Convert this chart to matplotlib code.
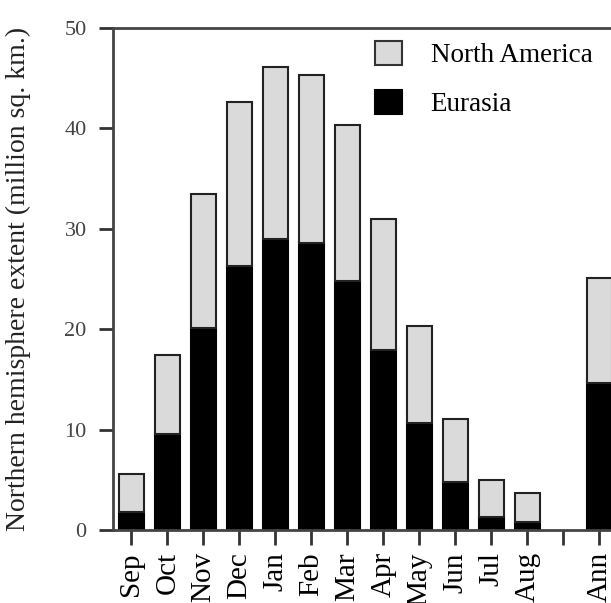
import numpy as np
import matplotlib
matplotlib.use('Agg')
import matplotlib.pyplot as plt
from matplotlib.patches import Patch

plt.rcParams['font.family'] = ['Liberation Serif', 'DejaVu Serif']

# values (million sq. km.)
months = ['Sep', 'Oct', 'Nov', 'Dec', 'Jan', 'Feb', 'Mar', 'Apr', 'May', 'Jun', 'Jul', 'Aug', '', 'Ann']
total = [5.6, 17.4, 33.5, 42.6, 46.1, 45.3, 40.3, 31.0, 20.3, 11.1, 5.0, 3.7, 0.0, 25.1]
eurasia = [1.8, 9.6, 20.1, 26.3, 29.0, 28.6, 24.8, 17.9, 10.7, 4.8, 1.3, 0.8, 0.0, 14.6]
north_america = [t - e for t, e in zip(total, eurasia)]

x = np.arange(len(months))
fig = plt.figure(figsize=(6.11, 6.03), dpi=100)
ax = fig.add_axes([113/611, 73/603, 510/611, 502/603])

show = [m != '' for m in months]
xs = x[show]
eu = np.array(eurasia)[show]
na = np.array(north_america)[show]

ax.bar(xs, eu, width=0.7, color='black', edgecolor='black', linewidth=1.5)
ax.bar(xs, na, width=0.7, bottom=eu, color='#dadada', edgecolor='#222222', linewidth=1.5)

ax.set_xlim(-0.51, 13.66)
ax.set_ylim(0, 50)
ax.set_yticks([0, 10, 20, 30, 40, 50])
ax.set_xticks(x)
ax.set_xticklabels(months, rotation=90, fontsize=21)
ax.tick_params(axis='y', labelsize=16, length=10, width=2, pad=9, direction='out',
               color='#333333', labelcolor='#444444')
ax.tick_params(axis='x', length=11, width=2, pad=5, direction='out', color='#333333')
for s in ax.spines.values():
    s.set_linewidth(2)
    s.set_color('#444444')

ax.set_ylabel('Northern hemisphere extent (million sq. km.)', fontsize=20, labelpad=24,
              color='#222222')

handles = [Patch(facecolor='#dadada', edgecolor='#333333', linewidth=1.5, label='North America'),
           Patch(facecolor='black', edgecolor='black', linewidth=1.5, label='Eurasia')]
ax.legend(handles=handles, loc='upper left', bbox_to_anchor=(0.514, 0.975), frameon=False,
          fontsize=19.5, handlelength=1.0, handleheight=1.0, handletextpad=1.05,
          labelspacing=0.8, borderpad=0, borderaxespad=0)

fig.savefig('out.png', dpi=100)
